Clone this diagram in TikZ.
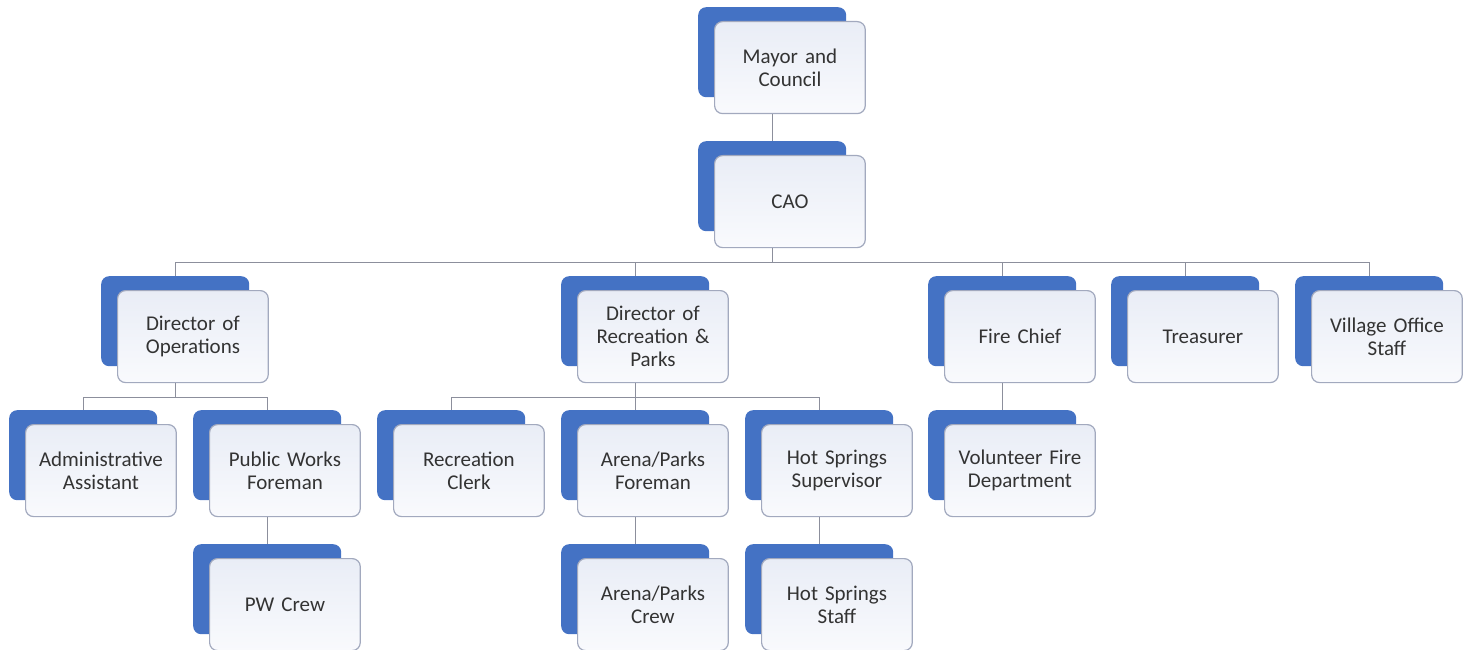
\documentclass[tikz,border=0pt]{standalone}
\usepackage{fontspec}
\setmainfont{Carlito}
\usetikzlibrary{positioning}
\definecolor{cardblue}{HTML}{4472C4}
\definecolor{cardtop}{HTML}{E9EDF6}
\definecolor{cardbot}{HTML}{F9FAFD}
\definecolor{cardline}{HTML}{A2A9BE}
\definecolor{linkgray}{HTML}{8C8F9C}
\definecolor{inkgray}{HTML}{333333}
\begin{document}
\begin{tikzpicture}[
x=1pt, y=-1pt,
back/.style={
  draw=none,
  fill=cardblue,
  rounded corners=8pt,
  minimum width=148pt,
  minimum height=90pt,
  anchor=north west
  },
card/.style={
  draw=cardline,
  line width=1.2pt,
  top color=cardtop,
  bottom color=cardbot,
  rounded corners=8pt,
  minimum width=150pt,
  minimum height=92pt,
  text width=144pt,
  align=center,
  text=inkgray,
  font=\fontsize{21}{23}\selectfont,
  anchor=north west
  },
link/.style={
  draw=linkgray,
  line width=1.4pt
  }
]
\useasboundingbox (0,0) rectangle (1468,650);
% top of the chart
\node[back] (mayor-b) at (698,7) {};
\node[card] (mayor) at (714,21) {Mayor and\\Council};
\node[back] (cao-b) at (698,141) {};
\node[card] (cao) at (714,155) {CAO};
% second row
\node[back] (dirops-b) at (101,276) {};
\node[card] (dirops) at (117,290) {Director of\\Operations};
\node[back] (dirrec-b) at (561,276) {};
\node[card] (dirrec) at (577,290) {Director of\\Recreation \&\\Parks};
\node[back] (firechief-b) at (928,276) {};
\node[card] (firechief) at (944,290) {Fire Chief};
\node[back] (treasurer-b) at (1111,276) {};
\node[card] (treasurer) at (1127,290) {Treasurer};
\node[back] (village-b) at (1295,276) {};
\node[card] (village) at (1311,290) {Village Office\\Staff};
% third row
\node[back] (admin-b) at (9,410) {};
\node[card] (admin) at (25,424) {Administrative\\Assistant};
\node[back] (pwforeman-b) at (193,410) {};
\node[card] (pwforeman) at (209,424) {Public Works\\Foreman};
\node[back] (recclerk-b) at (377,410) {};
\node[card] (recclerk) at (393,424) {Recreation\\Clerk};
\node[back] (arenaforeman-b) at (561,410) {};
\node[card] (arenaforeman) at (577,424) {Arena/Parks\\Foreman};
\node[back] (hssuper-b) at (745,410) {};
\node[card] (hssuper) at (761,424) {Hot Springs\\Supervisor};
\node[back] (volfire-b) at (928,410) {};
\node[card] (volfire) at (944,424) {Volunteer Fire\\Department};
% fourth row
\node[back] (pwcrew-b) at (193,544) {};
\node[card] (pwcrew) at (209,558) {PW Crew};
\node[back] (arenacrew-b) at (561,544) {};
\node[card] (arenacrew) at (577,558) {Arena/Parks\\Crew};
\node[back] (hsstaff-b) at (745,544) {};
\node[card] (hsstaff) at (761,558) {Hot Springs\\Staff};
% connectors
\draw[link] (mayor-b.center |- mayor.south) -- (cao-b.north);
\foreach \c in {dirops,dirrec,firechief,treasurer,village}
  \draw[link] (cao-b.center |- cao.south) -- ++(0,14) -| (\c-b.north);
\foreach \c in {admin,pwforeman}
  \draw[link] (dirops-b.center |- dirops.south) -- ++(0,14) -| (\c-b.north);
\foreach \c in {recclerk,arenaforeman,hssuper}
  \draw[link] (dirrec-b.center |- dirrec.south) -- ++(0,14) -| (\c-b.north);
\draw[link] (firechief-b.center |- firechief.south) -- (volfire-b.north);
\draw[link] (pwforeman-b.center |- pwforeman.south) -- (pwcrew-b.north);
\draw[link] (arenaforeman-b.center |- arenaforeman.south) -- (arenacrew-b.north);
\draw[link] (hssuper-b.center |- hssuper.south) -- (hsstaff-b.north);
\end{tikzpicture}
\end{document}
